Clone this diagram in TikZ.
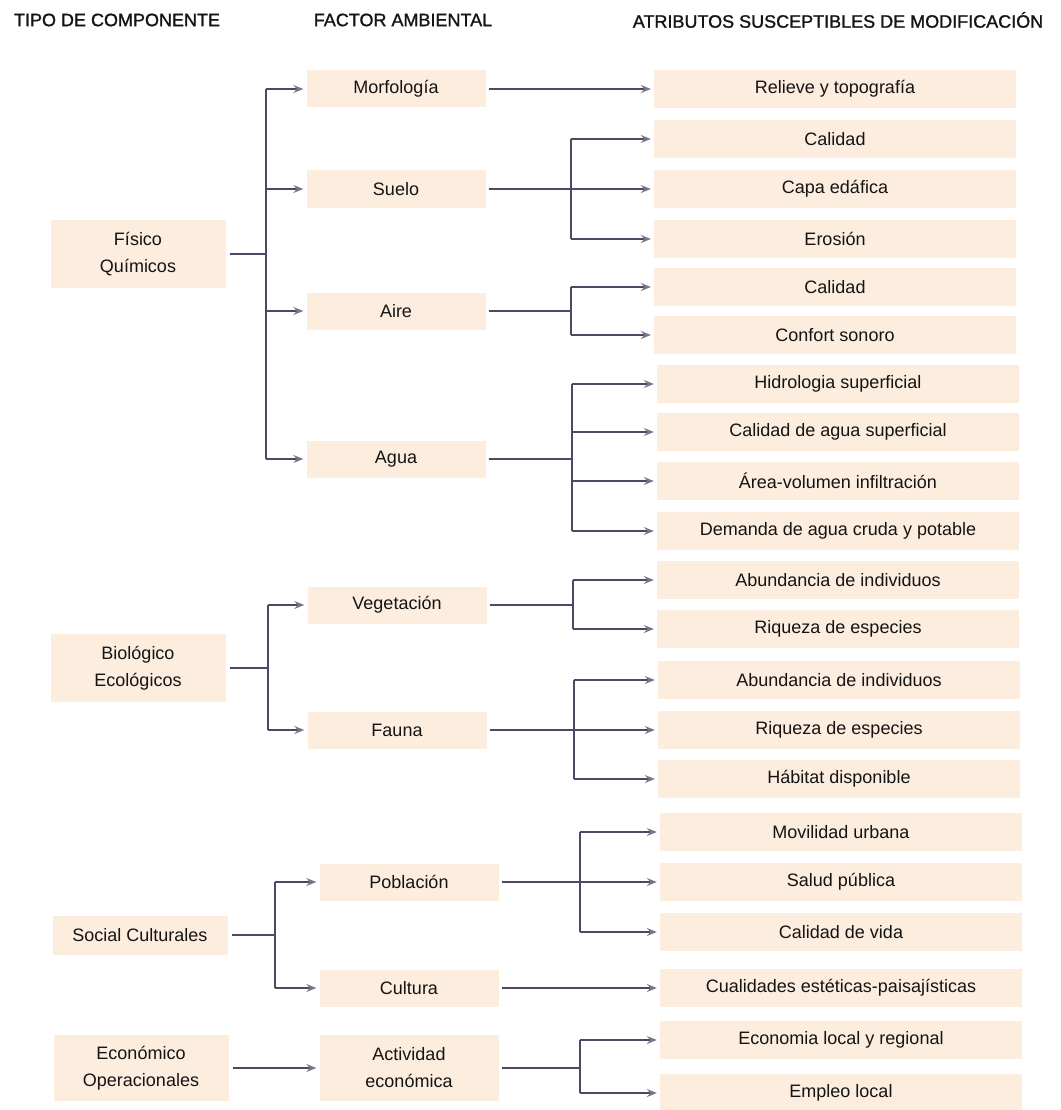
\documentclass[tikz,border=0pt]{standalone}
\usepackage{fontspec}
\setmainfont{Liberation Sans}
\newfontfamily\hdrfont{Liberation Sans}[FakeBold=1.2]
\usetikzlibrary{arrows.meta}
\definecolor{boxfill}{RGB}{252,237,222}
\definecolor{linec}{RGB}{78,72,102}
\definecolor{tipc}{RGB}{120,117,135}
\definecolor{txt}{RGB}{20,20,20}
\begin{document}
\begin{tikzpicture}[x=1pt,y=-1pt,
  every node/.style={text=txt},
  box/.style={fill=boxfill, inner sep=0pt, align=center, font=\fontsize{18}{27}\selectfont},
  comp/.style={box, minimum width=175pt, minimum height=68pt},
  fac/.style={box, minimum width=179pt, minimum height=37pt},
  attr/.style={box, minimum width=362pt, minimum height=38pt},
  hdr/.style={font=\hdrfont\fontsize{18}{22}\selectfont, inner sep=0pt},
  conn/.style={draw=linec, line width=1.2pt},
  arr/.style={conn, -{Stealth[length=10pt,width=8pt,inset=3.5pt,color=tipc]}, shorten >=3pt},
]
\useasboundingbox (0,0) rectangle (1060,1110);
\fill[white] (0,0) rectangle (1060,1110);

% headers
\node[hdr] (h1) at (117,20) {TIPO DE COMPONENTE};
\node[hdr] (h2) at (403,20) {FACTOR AMBIENTAL};
\node[hdr] (h3) at (838,20) {ATRIBUTOS SUSCEPTIBLES DE MODIFICACIÓN};

% component type
\node[comp] (fq) at (138,254) {Físico\\Químicos};
\node[comp] (be) at (138,668) {Biológico\\Ecológicos};
\node[comp, minimum height=39pt] (sc) at (140,935) {Social Culturales};
\node[comp, minimum height=66pt] (eo) at (141,1068) {Económico\\Operacionales};

% environmental factor
\node[fac] (mo) at (396,89) {Morfología};
\node[fac] (su) at (396,189) {Suelo};
\node[fac] (ai) at (396,311) {Aire};
\node[fac] (ag) at (396,459) {Agua};
\node[fac] (ve) at (397,605) {Vegetación};
\node[fac] (fa) at (397,730) {Fauna};
\node[fac] (po) at (409,882) {Población};
\node[fac] (cu) at (409,988) {Cultura};
\node[fac, minimum height=66pt] (ac) at (409,1068) {Actividad\\económica};

% attributes
\node[attr] (a1) at (835,89) {Relieve y topografía};
\node[attr] (a2) at (835,139) {Calidad};
\node[attr] (a3) at (835,189) {Capa edáfica};
\node[attr] (a4) at (835,239) {Erosión};
\node[attr] (a5) at (835,287) {Calidad};
\node[attr] (a6) at (835,335) {Confort sonoro};
\node[attr] (a7) at (838,384) {Hidrologia superficial};
\node[attr] (a8) at (838,432) {Calidad de agua superficial};
\node[attr] (a9) at (838,481) {Área-volumen infiltración};
\node[attr] (a10) at (838,531) {Demanda de agua cruda y potable};
\node[attr] (a11) at (838,580) {Abundancia de individuos};
\node[attr] (a12) at (838,629) {Riqueza de especies};
\node[attr] (a13) at (839,680) {Abundancia de individuos};
\node[attr] (a14) at (839,730) {Riqueza de especies};
\node[attr] (a15) at (839,779) {Hábitat disponible};
\node[attr] (a16) at (841,832) {Movilidad urbana};
\node[attr] (a17) at (841,882) {Salud pública};
\node[attr] (a18) at (841,932) {Calidad de vida};
\node[attr] (a19) at (841,988) {Cualidades estéticas-paisajísticas};
\node[attr] (a20) at (841,1040) {Economia local y regional};
\node[attr] (a21) at (841,1093) {Empleo local};

% component -> factor
\coordinate (t1) at (266,254);
\draw[conn] ([xshift=4pt]fq.east) -- (t1);
\draw[conn] (t1 |- mo) -- (t1 |- ag);
\foreach \n in {mo,su,ai,ag} \draw[arr] (t1 |- \n) -- (\n.west);

\coordinate (t2) at (268,668);
\draw[conn] ([xshift=4pt]be.east) -- (t2);
\draw[conn] (t2 |- ve) -- (t2 |- fa);
\foreach \n in {ve,fa} \draw[arr] (t2 |- \n) -- (\n.west);

\coordinate (t3) at (275,935);
\draw[conn] ([xshift=4pt]sc.east) -- (t3);
\draw[conn] (t3 |- po) -- (t3 |- cu);
\foreach \n in {po,cu} \draw[arr] (t3 |- \n) -- (\n.west);

\draw[arr] ([xshift=4pt]eo.east) -- (eo.east -| ac.west);

% factor -> attributes
\draw[arr] ([xshift=3pt]mo.east) -- (mo.east -| a1.west);

\coordinate (s2) at (571,189);
\draw[conn] ([xshift=3pt]su.east) -- (s2);
\draw[conn] (s2 |- a2) -- (s2 |- a4);
\foreach \n in {a2,a3,a4} \draw[arr] (s2 |- \n) -- (\n.west);

\coordinate (s3) at (571,311);
\draw[conn] ([xshift=3pt]ai.east) -- (s3);
\draw[conn] (s3 |- a5) -- (s3 |- a6);
\foreach \n in {a5,a6} \draw[arr] (s3 |- \n) -- (\n.west);

\coordinate (s4) at (572,459);
\draw[conn] ([xshift=3pt]ag.east) -- (s4);
\draw[conn] (s4 |- a7) -- (s4 |- a10);
\foreach \n in {a7,a8,a9,a10} \draw[arr] (s4 |- \n) -- (\n.west);

\coordinate (s5) at (573,605);
\draw[conn] ([xshift=3pt]ve.east) -- (s5);
\draw[conn] (s5 |- a11) -- (s5 |- a12);
\foreach \n in {a11,a12} \draw[arr] (s5 |- \n) -- (\n.west);

\coordinate (s6) at (574,730);
\draw[conn] ([xshift=3pt]fa.east) -- (s6);
\draw[conn] (s6 |- a13) -- (s6 |- a15);
\foreach \n in {a13,a14,a15} \draw[arr] (s6 |- \n) -- (\n.west);

\coordinate (s7) at (580,882);
\draw[conn] ([xshift=3pt]po.east) -- (s7);
\draw[conn] (s7 |- a16) -- (s7 |- a18);
\foreach \n in {a16,a17,a18} \draw[arr] (s7 |- \n) -- (\n.west);

\draw[arr] ([xshift=3pt]cu.east) -- (cu.east -| a19.west);

\coordinate (s8) at (580,1068);
\draw[conn] ([xshift=3pt]ac.east) -- (s8);
\draw[conn] (s8 |- a20) -- (s8 |- a21);
\foreach \n in {a20,a21} \draw[arr] (s8 |- \n) -- (\n.west);
\end{tikzpicture}
\end{document}
